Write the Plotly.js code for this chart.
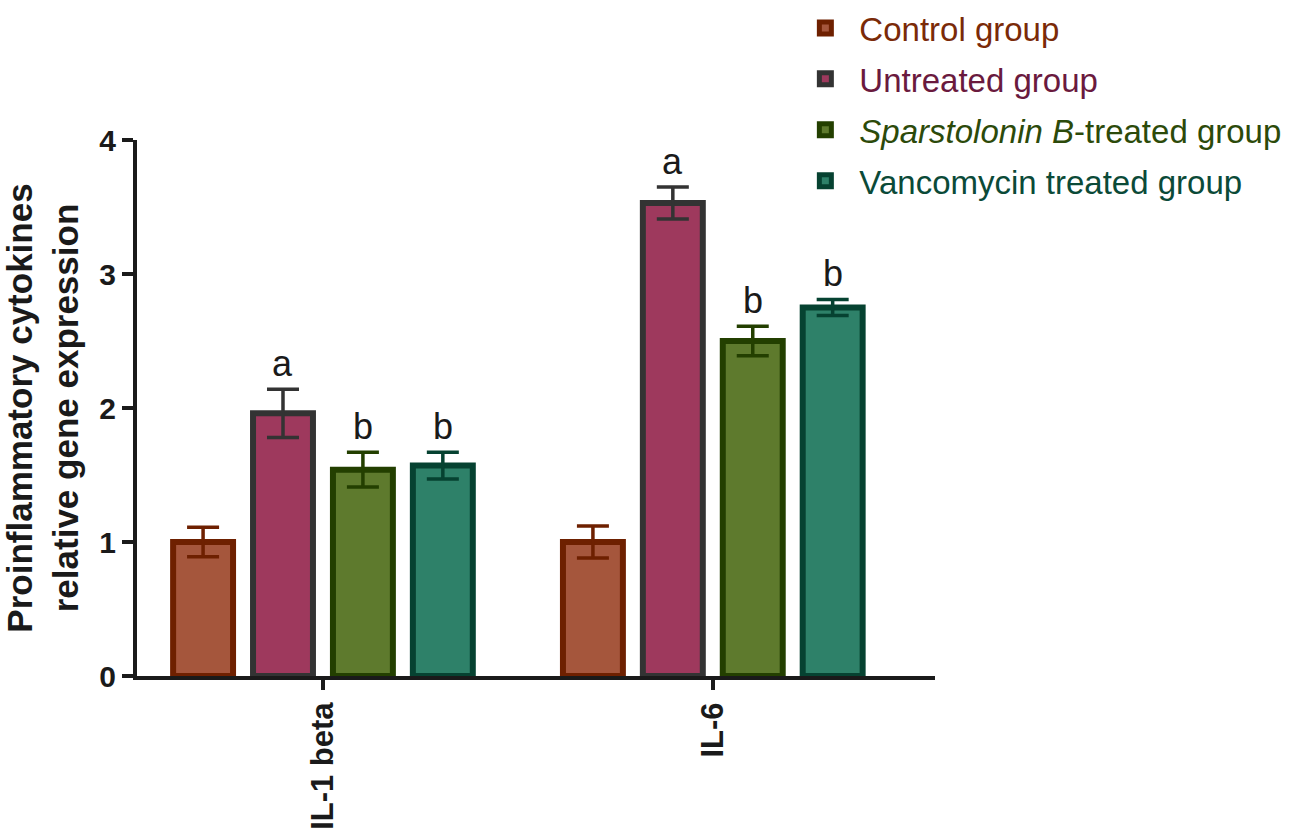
<!DOCTYPE html>
<html>
<head>
<meta charset="utf-8">
<script src="https://cdn.plot.ly/plotly-3.0.1.min.js"></script>
<style>html,body{margin:0;padding:0;background:#fff;}#chart{width:1303px;height:830px;}</style>
</head>
<body>
<div id="chart"></div>
<script>
const categories = ["IL-1 beta", "IL-6"];
const seriesNames = ["Control group", "Untreated group", "<i>Sparstolonin B</i>-treated group", "Vancomycin treated group"];
const controlValues = [1.00, 1.00];
const controlErrors = [0.11, 0.12];
const untreatedValues = [1.96, 3.53];
const untreatedErrors = [0.18, 0.12];
const sparstolValues = [1.54, 2.50];
const sparstolErrors = [0.13, 0.11];
const vancoValues = [1.57, 2.75];
const vancoErrors = [0.10, 0.06];
const letters = [["", ""], ["a", "a"], ["b", "b"], ["b", "b"]];
const yTicks = [0, 1, 2, 3, 4];

const fills = ["#A5563C", "#9E395D", "#5E7A2D", "#2E8169"];
const borders = ["#6E2000", "#333333", "#233F00", "#064231"];
const textColors = ["#7A2A08", "#6A1A3E", "#2C4A0A", "#0B4A38"];

const vals = [controlValues, untreatedValues, sparstolValues, vancoValues];
const errs = [controlErrors, untreatedErrors, sparstolErrors, vancoErrors];

const FONT = "Liberation Sans, Arial, sans-serif";

const traces = vals.map((v, i) => ({
  type: "bar",
  name: seriesNames[i],
  x: categories,
  y: v,
  legendgroup: "g" + i,
  marker: {color: fills[i], line: {color: borders[i], width: 6}},
  error_y: {type: "data", array: errs[i], visible: true, color: borders[i], thickness: 3.5, width: 16},
  hoverinfo: "skip"
}));

const slot = 0.205;
const annotations = [];
letters.forEach((row, i) => {
  row.forEach((t, c) => {
    if (!t) return;
    annotations.push({
      xref: "x", yref: "y",
      x: c + (i - 1.5) * slot,
      y: vals[i][c] + errs[i][c],
      text: t, showarrow: false,
      yanchor: "bottom", yshift: 3,
      font: {family: FONT, size: 36, color: "#1a1a1a"}
    });
  });
});

const layout = {
  width: 1303, height: 830,
  margin: {l: 137, r: 368, t: 140, b: 154, autoexpand: false},
  paper_bgcolor: "#fff", plot_bgcolor: "#fff",
  barmode: "group", bargap: 0.18, bargroupgap: 0.25,
  showlegend: true,
  legend: {
    xref: "paper", yref: "container",
    x: 0.82, y: 1.004, xanchor: "left", yanchor: "top",
    tracegroupgap: 5, itemwidth: 58,
    font: {family: FONT, size: 33},
    bgcolor: "rgba(0,0,0,0)"
  },
  xaxis: {
    type: "category",
    range: [-0.477, 1.57],
    showline: true, linecolor: "#1a1a1a", linewidth: 4,
    ticks: "outside", ticklen: 10, tickwidth: 3.5, tickcolor: "#1a1a1a",
    tickangle: -90,
    tickfont: {family: FONT, size: 31, color: "#1a1a1a", weight: "bold"},
    showgrid: false, zeroline: false, fixedrange: true
  },
  yaxis: {
    range: [0, 4],
    tickvals: yTicks, ticktext: yTicks.map(String),
    showline: true, linecolor: "#1a1a1a", linewidth: 4,
    ticks: "outside", ticklen: 11, tickwidth: 4, tickcolor: "#1a1a1a",
    tickfont: {family: FONT, size: 30, color: "#1a1a1a", weight: "bold"},
    showgrid: false, zeroline: false, fixedrange: true,
    title: {
      text: "Proinflammatory cytokines<br>relative gene expression",
      font: {family: FONT, size: 35, color: "#1a1a1a", weight: "bold"},
      standoff: 16
    }
  },
  annotations: annotations
};

Plotly.newPlot("chart", traces, layout, {displayModeBar: false, staticPlot: true}).then(() => {
  const items = document.querySelectorAll(".legend .traces");
  items.forEach((g, i) => {
    const t = g.querySelector("text.legendtext");
    if (t) { t.style.fill = textColors[i]; t.querySelectorAll("tspan").forEach(s => s.style.fill = textColors[i]); }
  });
});
</script>
</body>
</html>
